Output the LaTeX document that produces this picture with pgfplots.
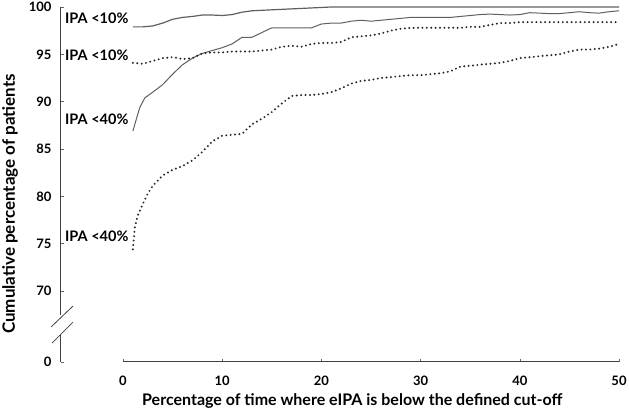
\documentclass[border=0pt]{standalone}
\usepackage{pgfplots}
\pgfplotsset{compat=1.18}
\usepackage{fontspec}
\setmainfont{Lato}
\definecolor{solidgray}{RGB}{95,95,95}
\definecolor{dotgray}{RGB}{40,40,40}
\begin{document}
\begin{tikzpicture}
\begin{axis}[
  scale only axis,
  width=558pt, height=355pt,
  xmin=-6.25, xmax=50, ymin=62.5, ymax=100,
  clip=false,
  axis x line*=bottom, axis y line*=left,
  x axis line style={draw=none},
  y axis line style={line width=1pt, color=black!75},
  xtick={0,10,20,30,40,50},
  ytick={62.5,70,75,80,85,90,95,100},
  yticklabels={0,70,75,80,85,90,95,100},
  tick align=inside,
  major tick length=3pt,
  tick style={black!60, line width=0.6pt},
  /pgf/number format/assume math mode=true,
  ticklabel style={font=\fontsize{13}{15}\selectfont\bfseries},
  xticklabel style={yshift=-10pt},
  yticklabel style={xshift=-6pt},
  xlabel={Percentage of time where eIPA is below the defined cut-off},
  ylabel={Cumulative percentage of patients},
  xlabel style={font=\fontsize{16}{18}\selectfont\bfseries, at={(axis description cs:0.522,0)}, anchor=north, yshift=-28pt},
  ylabel style={font=\fontsize{17}{19}\selectfont\bfseries, at={(axis description cs:-0.0914,0.445)}, anchor=center},
]
\coordinate (O) at (axis cs:-6.25,62.5);
% x axis line
\draw[line width=1pt, black!75] (axis cs:0,62.5) -- (axis cs:50,62.5);
% axis break
\fill[white] (axis cs:-6.6,65.3) rectangle (axis cs:-5.9,67.5);
\draw[line width=0.8pt, black!75] (axis cs:-7.25,66.2) -- (axis cs:-5.05,68.4);
\draw[line width=0.8pt, black!75] (axis cs:-7.15,64.5) -- (axis cs:-5.05,66.7);

% IPA <10% solid
\addplot[solidgray, line width=1.2pt] coordinates {
(1,97.9)(2,97.9)(3,98.0)(4,98.3)(5,98.7)(6,98.9)(7,99.0)(8,99.15)(9,99.15)(10,99.1)
(11,99.2)(12,99.45)(13,99.6)(14,99.65)(15,99.7)(16,99.75)(17,99.8)(18,99.85)(19,99.9)(20,99.95)
(21,100)(50,100)};
% IPA <40% solid
\addplot[solidgray, line width=1pt] coordinates {
(1,86.9)(1.3,88)(1.7,89.4)(2.2,90.4)(3,91.0)(4,91.8)(5,92.9)(6,93.9)(7,94.6)(8,95.1)
(9,95.4)(10,95.7)(11,96.1)(12,96.8)(13,96.8)(14,97.3)(15,97.8)(16,97.8)(17,97.8)(18,97.8)
(19,97.8)(20,98.2)(21,98.3)(22,98.3)(23,98.5)(24,98.6)(25,98.5)(26,98.6)(27,98.7)(28,98.8)
(29,98.9)(30,98.9)(31,98.9)(32,98.9)(33,98.9)(34,99.0)(35,99.1)(36,99.2)(37,99.25)(38,99.2)
(39,99.15)(40,99.2)(41,99.4)(42,99.35)(43,99.3)(44,99.3)(45,99.4)(46,99.5)(47,99.4)(48,99.35)
(49,99.5)(50,99.6)};
% IPA <10% dotted
\addplot[dotgray, line width=2.2pt, line cap=round, dash pattern=on 0pt off 4.4pt] coordinates {
(1,94.1)(2,94.0)(3,94.3)(4,94.6)(5,94.7)(6,94.5)(7,94.6)(8,95.1)(9,95.2)(10,95.2)
(11,95.3)(12,95.3)(13,95.3)(14,95.4)(15,95.5)(16,95.8)(17,95.9)(18,95.8)(19,96.1)(20,96.2)
(21,96.2)(22,96.3)(23,96.8)(24,96.9)(25,97.0)(26,97.2)(27,97.5)(28,97.7)(29,97.8)(30,97.8)
(31,97.8)(32,97.8)(33,97.8)(34,97.8)(35,97.9)(36,97.9)(37,98.1)(38,98.3)(39,98.3)(40,98.4)
(41,98.4)(50,98.4)};
% IPA <40% dotted
\addplot[dotgray, line width=2.2pt, line cap=round, dash pattern=on 0pt off 4.4pt] coordinates {
(1,74.4)(1.2,76.8)(1.5,78.0)(2,79.2)(2.5,80.3)(3,81.1)(4,82.2)(5,82.8)(6,83.2)(7,83.8)
(8,84.7)(9,85.8)(10,86.4)(11,86.5)(12,86.6)(13,87.6)(14,88.2)(15,88.9)(16,89.8)(17,90.6)
(18,90.7)(19,90.7)(20,90.8)(21,91.0)(22,91.4)(23,91.9)(24,92.2)(25,92.3)(26,92.5)(27,92.6)
(28,92.7)(29,92.8)(30,92.8)(31,92.9)(32,93.0)(33,93.2)(34,93.7)(35,93.8)(36,93.9)(37,94.0)
(38,94.1)(39,94.3)(40,94.6)(41,94.7)(42,94.8)(43,94.9)(44,95.0)(45,95.3)(46,95.5)(47,95.5)
(48,95.6)(49,95.8)(50,96.1)};

\node[anchor=west, inner sep=0pt, font=\fontsize{14.5}{16}\selectfont\bfseries] at (axis cs:-5.85,98.8) {IPA <10\%};
\node[anchor=west, inner sep=0pt, font=\fontsize{14.5}{16}\selectfont\bfseries] at (axis cs:-5.85,94.9) {IPA <10\%};
\node[anchor=west, inner sep=0pt, font=\fontsize{14.5}{16}\selectfont\bfseries] at (axis cs:-5.85,88.1) {IPA <40\%};
\node[anchor=west, inner sep=0pt, font=\fontsize{14.5}{16}\selectfont\bfseries] at (axis cs:-5.85,75.8) {IPA <40\%};
\end{axis}
\pgfresetboundingbox
\useasboundingbox (O) ++(-61pt,-52pt) rectangle ++(629pt,414pt);
\end{tikzpicture}
\end{document}
